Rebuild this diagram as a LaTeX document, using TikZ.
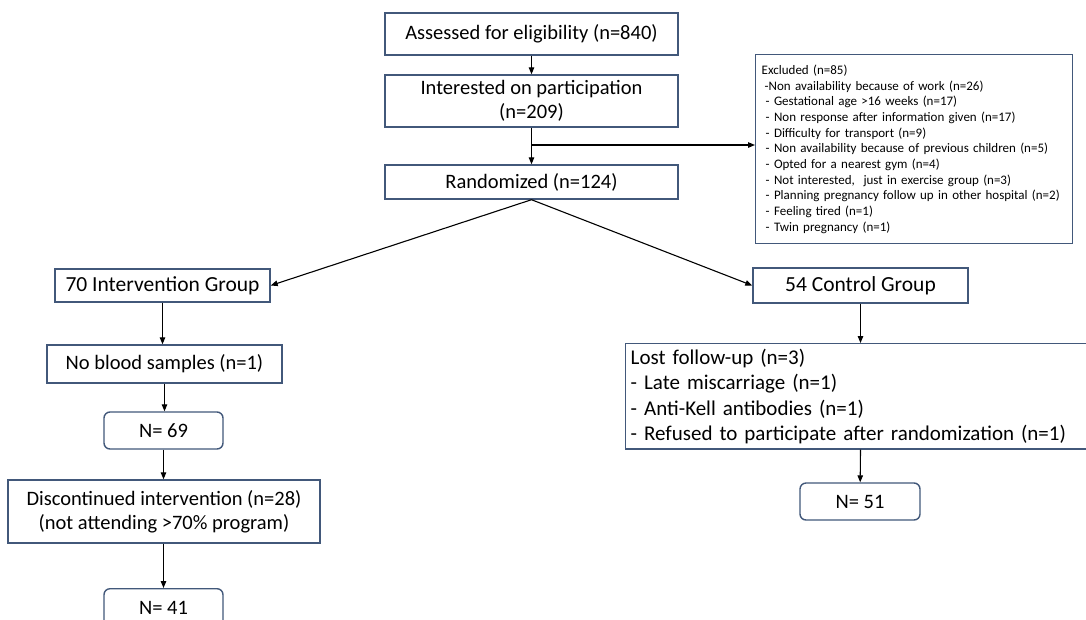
\documentclass[tikz,border=0pt]{standalone}
\usepackage{fontspec}
\setmainfont{Carlito}
\usetikzlibrary{arrows.meta}
\definecolor{boxcol}{RGB}{66,88,122}
\tikzset{
  x=1pt,y=-1pt,
  box/.style={draw=boxcol,line width=1.4pt,inner sep=2pt,align=center,font=\fontsize{20.5}{24}\selectfont},
  rbox/.style={box,rounded corners=6pt},
  conn/.style={line width=1.1pt,-{Triangle[length=7pt,width=5.5pt]}},
  bigtxt/.style={font=\fontsize{21.5}{25}\selectfont}
}
\begin{document}
\begin{tikzpicture}
\useasboundingbox (0,0) rectangle (1086,619);
\fill[white] (0,0) rectangle (1086,619);
\node[box,minimum width=293pt,minimum height=42pt] (A) at (531.5,34) {Assessed for eligibility (n=840)};
\node[box,minimum width=293pt,minimum height=52pt] (B) at (531.5,101) {Interested on participation\\(n=209)};
\node[box,minimum width=293pt,minimum height=34pt] (C) at (531.5,182) {Randomized (n=124)};
\node[box,anchor=north west,minimum width=317pt,minimum height=189pt,text width=305pt,align=left,inner sep=6pt,font=\fontsize{13}{15.7}\selectfont] (Ex) at (755,54) {Excluded (n=85)\\
\hspace*{3pt}-Non availability because of work (n=26)\\
\hspace*{4pt}- Gestational age >16 weeks (n=17)\\
\hspace*{4pt}- Non response after information given (n=17)\\
\hspace*{4pt}- Difficulty for transport (n=9)\\
\hspace*{4pt}- Non availability because of previous children (n=5)\\
\hspace*{4pt}- Opted for a nearest gym (n=4)\\
\hspace*{4pt}- Not interested,\ \ just in exercise group (n=3)\\
\hspace*{4pt}- Planning pregnancy follow up in other hospital (n=2)\\
\hspace*{4pt}- Feeling tired (n=1)\\
\hspace*{4pt}- Twin pregnancy (n=1)};
\node[box,bigtxt,minimum width=215pt,minimum height=33pt] (I) at (162.5,285.5) {70 Intervention Group};
\node[box,bigtxt,minimum width=215pt,minimum height=35pt] (Ctl) at (860.5,285.5) {54 Control Group};
\node[box,minimum width=235pt,minimum height=38pt] (NB) at (164.5,364) {No blood samples (n=1)};
\node[rbox,minimum width=119pt,minimum height=37pt] (N69) at (163.5,430.5) {N= 69};
\node[box,minimum width=312pt,minimum height=63pt] (D) at (164,511.5) {Discontinued intervention (n=28)\\(not attending >70\% program)};
\node[rbox,anchor=north,minimum width=119pt,minimum height=44pt] (N41) at (163.5,588) {\raisebox{5pt}{N= 41}};
\node[box,anchor=north west,minimum width=470pt,minimum height=101pt,text width=460pt,align=left,inner sep=5pt,font=\fontsize{21}{25.5}\selectfont] (L) at (625,343) {Lost follow-up (n=3)\\
- Late miscarriage (n=1)\\
- Anti-Kell antibodies (n=1)\\
- Refused to participate after randomization (n=1)};
\node[rbox,minimum width=120pt,minimum height=37pt] (N51) at (860,501.5) {N= 51};
\coordinate (br) at (531.5,145);
\draw[conn] (A) -- (B);
\draw[conn] (B) -- (C);
\draw[conn] (br) -- (Ex.west |- br);
\draw[conn] (C.south) -- (I.east);
\draw[conn] (C.south) -- (Ctl.west);
\draw[conn] (I) -- (I |- NB.north);
\draw[conn] (NB) -- (NB |- N69.north);
\draw[conn] (N69) -- (N69 |- D.north);
\draw[conn] (N69 |- D.south) -- (N41);
\draw[conn] (Ctl) -- (Ctl |- L.north);
\draw[conn] (Ctl |- L.south) -- (N51);
\end{tikzpicture}
\end{document}
